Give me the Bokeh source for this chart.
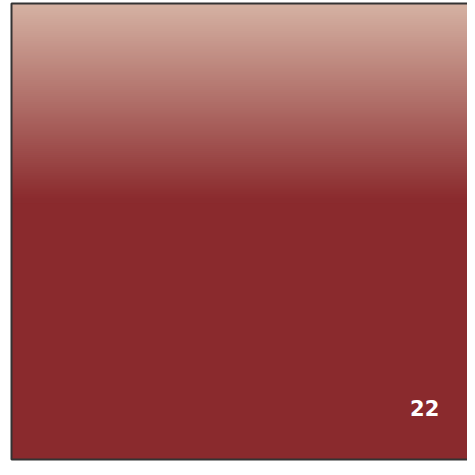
import numpy as np
from bokeh.plotting import figure
from bokeh.models import Range1d, ColumnDataSource
from bokeh.core.properties import value
from bokeh.embed import file_html
from bokeh.resources import INLINE

# data
labels = ["22"]
values = [22]

W, H = 467, 467
U = 456.0
p = figure(width=W, height=H, output_backend="svg", toolbar_location=None,
           x_range=Range1d(-11 / U, 1), y_range=Range1d(-8 / U, 1 + 3 / U),
           min_border=0)
p.axis.visible = False
p.grid.visible = False
p.outline_line_color = None
p.background_fill_color = "white"

total = sum(values)
src = ColumnDataSource(dict(left=[0], right=[values[0] / total], bottom=[0], top=[1],
                            label=labels, lx=[0.906], ly=[0.112]))
p.quad(left="left", right="right", bottom="bottom", top="top", source=src,
       fill_color="#8a2a2d", line_color=None)

# gradient overlay at top of the cell
n = 100
g_top = 1.0
g_bot = 1.0 - 197 / U
edges = np.linspace(g_top, g_bot, n + 1)
c0 = np.array([0xd5, 0xb2, 0xa3])
c1 = np.array([0x8a, 0x2a, 0x2d])
cols = []
for i in range(n):
    t = (i + 0.5) / n
    c = (c0 * (1 - t) + c1 * t).round().astype(int)
    cols.append("#%02x%02x%02x" % tuple(c))
p.quad(left=[0] * n, right=[1] * n, top=list(edges[:-1]), bottom=list(edges[1:] - 0.006),
       fill_color=cols, line_color=None)

# border
p.quad(left=[0], right=[1.01], bottom=[0], top=[1], fill_color=None,
       line_color="#333333", line_width=2)

p.text(x="lx", y="ly", text="label", source=src, text_color="white",
       text_font=value("DejaVu Sans"), text_font_style="bold", text_font_size="21px",
       text_align="center", text_baseline="middle")

open("out.html", "w").write(file_html(p, INLINE))
